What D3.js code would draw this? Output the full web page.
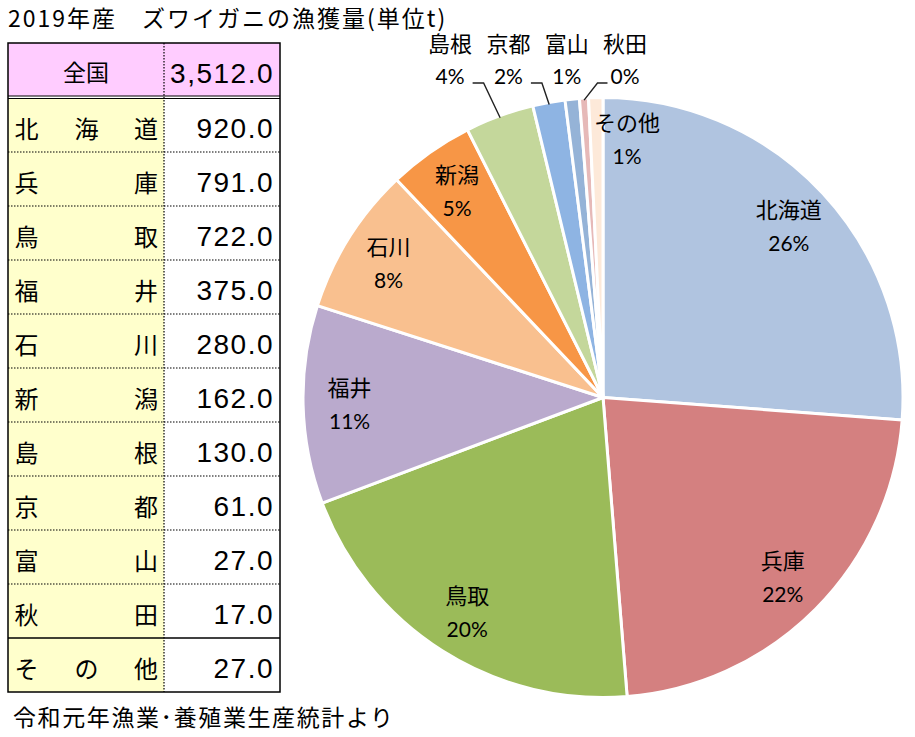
<!DOCTYPE html>
<html><head><meta charset="utf-8">
<script src="https://cdn.jsdelivr.net/npm/d3@7"></script>
<style>
html,body{margin:0;padding:0;background:#fff;}
svg{display:block;}
</style>
</head><body>
<svg id="c" width="915" height="737"></svg>
<script>
// ---- data ----
const categories = ["北海道","兵庫","鳥取","福井","石川","新潟","島根","京都","富山","秋田","その他"];
const values = [920, 791, 722, 375, 280, 162, 130, 61, 27, 17, 27];
const pctLabels = ["26%","22%","20%","11%","8%","5%","4%","2%","1%","0%","1%"];
const totalLabel = "全国";
const titleText = "2019年産　ズワイガニの漁獲量(単位t)";
const sourceText = "令和元年漁業･養殖業生産統計より";

// ---- styles ----
const palette = ["#B0C4E0","#D48080","#9BBB59","#BAAACD","#F9C08F","#F79646","#C4D79B","#8EB4E3","#95B3D7","#E6B9B8","#FDE9D9"];
const cjk = "'Noto Sans CJK JP', sans-serif";
const lblFont = "Lato, 'Noto Sans CJK JP', sans-serif";
const numFont = "'Liberation Sans', Arial, sans-serif";

const svg = d3.select("#c");

// ---- title ----
svg.append("text").attr("x", 8).attr("y", 27)
  .attr("font-family", cjk).attr("font-size", 23).attr("letter-spacing", 2).attr("fill", "#000")
  .text(titleText);

// ---- table ----
const tX0 = 8, tX1 = 164, tX2 = 280;
const headTop = 43, headH = 53, rowTop = 98, rowH = 54;
const g = svg.append("g");
const rowY = d3.scaleLinear().domain([0, categories.length]).range([rowTop, rowTop + rowH * categories.length]);
const fmt = d3.format(",.1f");
const total = d3.sum(values);

// header
g.append("rect").attr("x", tX0).attr("y", headTop).attr("width", tX2 - tX0).attr("height", headH).attr("fill", "#FFCCFF");
g.append("text").attr("x", (tX0 + tX1) / 2).attr("y", headTop + headH / 2 + 1)
  .attr("text-anchor", "middle").attr("dominant-baseline", "central")
  .attr("font-family", cjk).attr("font-size", 23).text(totalLabel);
g.append("text").attr("x", 274).attr("y", headTop + 40)
  .attr("text-anchor", "end").attr("font-family", numFont).attr("font-size", 28)
  .attr("letter-spacing", 1.5).text(fmt(total));

// rows
categories.forEach((name, i) => {
  const y0 = rowY(i);
  g.append("rect").attr("x", tX0).attr("y", y0).attr("width", tX1 - tX0).attr("height", rowH).attr("fill", "#FFFFCC");
  const chars = Array.from(name);
  const cxs = chars.length === 3 ? [26.5, 86.5, 146] : [26.5, 146];
  chars.forEach((ch, k) => {
    g.append("text").attr("x", cxs[k]).attr("y", y0 + rowH / 2 + 2)
      .attr("text-anchor", "middle").attr("dominant-baseline", "central")
      .attr("font-family", cjk).attr("font-size", 24).attr("fill", "#000").text(ch);
  });
  g.append("text").attr("x", 274).attr("y", y0 + 40)
    .attr("text-anchor", "end").attr("font-family", numFont).attr("font-size", 28)
    .attr("letter-spacing", 1.5).attr("fill", "#000").text(fmt(values[i]));
});
// row separators
for (let i = 1; i < categories.length; i++) {
  const solid = i === categories.length - 1;
  g.append("line").attr("x1", tX0).attr("x2", tX2).attr("y1", rowY(i)).attr("y2", rowY(i))
    .attr("stroke", "#000").attr("stroke-width", solid ? 1.5 : 1.2)
    .attr("stroke-dasharray", solid ? null : "1.5,1.5");
}
// double line under header
g.append("line").attr("x1", tX0).attr("x2", tX2).attr("y1", headTop + headH).attr("y2", headTop + headH).attr("stroke", "#000").attr("stroke-width", 1.2);
g.append("line").attr("x1", tX0).attr("x2", tX2).attr("y1", rowTop + 0.5).attr("y2", rowTop + 0.5).attr("stroke", "#000").attr("stroke-width", 1.2);
// column divider
g.append("line").attr("x1", tX1).attr("x2", tX1).attr("y1", headTop).attr("y2", rowY(categories.length))
  .attr("stroke", "#000").attr("stroke-width", 1.2).attr("stroke-dasharray", "1.5,1.5");
// outer border
g.append("rect").attr("x", tX0).attr("y", headTop).attr("width", tX2 - tX0).attr("height", rowY(categories.length) - headTop)
  .attr("fill", "none").attr("stroke", "#000").attr("stroke-width", 1.5);

// ---- source ----
svg.append("text").attr("x", 13).attr("y", 726)
  .attr("font-family", cjk).attr("font-size", 23).attr("letter-spacing", 1.6).attr("fill", "#000").text(sourceText);

// ---- pie ----
const cx = 603, cy = 397.5, R = 300;
const pie = d3.pie().sort(null).value(d => d).startAngle(0).endAngle(2 * Math.PI);
const arcs = pie(values);
const arc = d3.arc().innerRadius(0).outerRadius(R);
const pg = svg.append("g").attr("transform", `translate(${cx},${cy})`);
pg.selectAll("path").data(arcs).join("path")
  .attr("d", arc).attr("fill", (d, i) => palette[i])
  .attr("stroke", "#fff").attr("stroke-width", 3).attr("stroke-linejoin", "round");

const n = values.length;
const share = d => d.value / total;
const isOuter = (d, i) => share(d) < 0.045 && i < n - 1;
const outerIdx = arcs.map((d, i) => i).filter(i => isOuter(arcs[i], i));

const labArc = d3.arc().innerRadius(R * 0.845).outerRadius(R * 0.845);
arcs.forEach((d, i) => {
  if (isOuter(d, i)) return;
  let [x, y] = labArc.centroid(d);
  if (share(d) < 0.02) { x = Math.max(x, 24); y -= 6; }
  const t = pg.append("g").attr("font-family", lblFont).attr("fill", "#000").attr("text-anchor", "middle");
  t.append("text").attr("x", x).attr("y", y - 16).attr("font-size", 22).attr("dominant-baseline", "central").text(categories[i]);
  t.append("text").attr("x", x).attr("y", y + 17).attr("font-size", 21).attr("dominant-baseline", "central").text(pctLabels[i]);
});

// outer labels laid in a row above the pie
const nameY = 43 - cy, pctY = 75.5 - cy;
outerIdx.forEach((i, j) => {
  const d = arcs[i];
  const lx = 22 - (outerIdx.length - 1 - j) * 58.3;
  const t = pg.append("g").attr("font-family", lblFont).attr("fill", "#000").attr("text-anchor", "middle");
  t.append("text").attr("x", lx).attr("y", nameY).attr("font-size", 22).attr("dominant-baseline", "central").text(categories[i]);
  const pt = t.append("text").attr("x", lx).attr("y", pctY).attr("font-size", 21).attr("dominant-baseline", "central").text(pctLabels[i]);
  const w = pt.node().getComputedTextLength();
  const mid = (d.startAngle + d.endAngle) / 2;
  const px = Math.sin(mid) * (R - 2), py = -Math.cos(mid) * (R - 2);
  const ly = 83 - cy;
  let pts = null;
  if (px - lx > 12) {
    const right = lx + w / 2;
    pts = [[px, py], [right + 19, ly], [right + 8, ly]];
  } else if (lx - px > 12) {
    const left = lx - w / 2;
    pts = [[px, py], [left - 13, ly], [left - 3, ly]];
  }
  if (pts) {
    pg.append("path").attr("d", d3.line()(pts)).attr("fill", "none")
      .attr("stroke", "#222").attr("stroke-width", 1.4);
  }
});
</script>
</body></html>
